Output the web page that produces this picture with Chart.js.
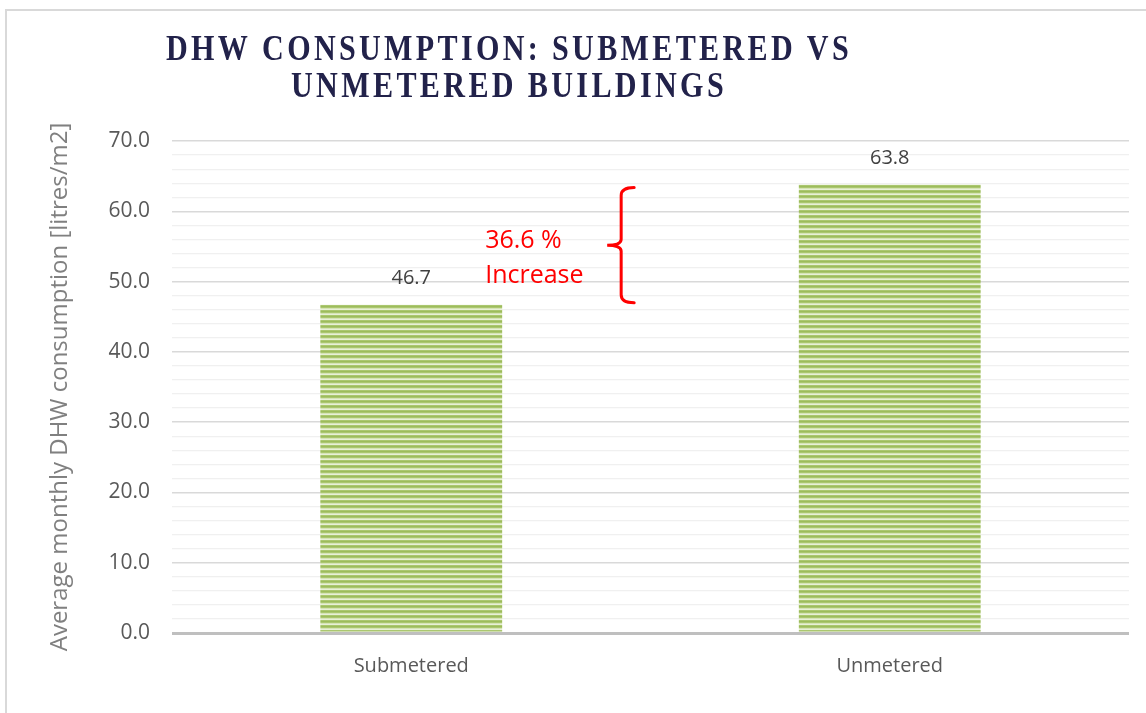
<!DOCTYPE html>
<html>
<head>
<meta charset="utf-8">
<script src="https://cdn.jsdelivr.net/npm/chart.js@4"></script>
<style>
  html, body { margin: 0; padding: 0; background: #fff; }
  #wrap { position: relative; width: 1146px; height: 713px; }
</style>
</head>
<body>
<div id="wrap"><canvas id="dhwChart"></canvas></div>
<script>
// chart data
const CATEGORIES = ['Submetered', 'Unmetered'];
const VALUES = [46.7, 63.8];
const Y_MIN = 0;
const Y_MAX = 70;
const Y_STEP = 2;          // minor grid step
const Y_LABEL_STEP = 10;   // labelled ticks
const TITLE_LINES = ['DHW CONSUMPTION: SUBMETERED VS', 'UNMETERED BUILDINGS'];
const Y_TITLE = 'Average monthly DHW consumption [litres/m2]';
const NOTE_LINES = ['36.6 %', 'Increase'];

const FONT = '"Open Sans", sans-serif';

// striped fill for the bars
function makeStripes(ctx) {
    const c = document.createElement('canvas');
    c.width = 4; c.height = 5;
    const g = c.getContext('2d');
    const rows = ['#abc76f', '#9dbc5c', '#abc76f', '#d6e4b6', '#e8f0d6'];
    rows.forEach((col, i) => { g.fillStyle = col; g.fillRect(0, i, 4, 1); });
    return ctx.createPattern(c, 'repeat');
}

// frame, title, value labels and the bracket note
const extrasPlugin = {
    id: 'extras',
    beforeDraw(chart) {
        const {ctx} = chart;
        ctx.save();
        ctx.strokeStyle = '#d9d9d9';
        ctx.lineWidth = 2;
        ctx.beginPath();
        ctx.moveTo(6, 713);
        ctx.lineTo(6, 10);
        ctx.lineTo(1146, 10);
        ctx.stroke();
        ctx.restore();
    },
    afterDatasetsDraw(chart) {
        const {ctx, scales} = chart;
        const y = scales.y;
        const bars = chart.getDatasetMeta(0).data;
        ctx.save();

        // title
        ctx.fillStyle = '#22224a';
        ctx.font = 'bold 36px "Liberation Serif", serif';
        ctx.textAlign = 'center';
        ctx.textBaseline = 'middle';
        ctx.letterSpacing = '4px';
        ctx.fillText(TITLE_LINES[0], 509, 51, 686);
        ctx.fillText(TITLE_LINES[1], 509, 88, 436);
        ctx.letterSpacing = '0px';

        // value labels
        ctx.fillStyle = '#404040';
        ctx.font = '20px ' + FONT;
        bars.forEach((bar, i) => {
            ctx.fillText(VALUES[i].toFixed(1), bar.x, bar.y - 26);
        });

        // bracket between the two bar tops
        const top = y.getPixelForValue(VALUES[1]) + 3;
        const bot = y.getPixelForValue(VALUES[0]) - 2;
        const mid = (top + bot) / 2;
        const bx = bars[0].x + bars[0].width / 2 + 119;
        ctx.strokeStyle = '#ff0000';
        ctx.lineWidth = 3;
        ctx.lineCap = 'round';
        ctx.beginPath();
        ctx.moveTo(bx + 13, top);
        ctx.quadraticCurveTo(bx, top, bx, top + 8);
        ctx.lineTo(bx, mid - 6);
        ctx.quadraticCurveTo(bx, mid, bx - 14, mid);
        ctx.quadraticCurveTo(bx, mid, bx, mid + 6);
        ctx.lineTo(bx, bot - 8);
        ctx.quadraticCurveTo(bx, bot, bx + 13, bot);
        ctx.stroke();

        // note text
        ctx.fillStyle = '#ff0000';
        ctx.font = '25px ' + FONT;
        ctx.textAlign = 'left';
        const tx = bars[0].x + bars[0].width / 2 - 17;
        ctx.fillText(NOTE_LINES[0], tx, mid - 4);
        ctx.fillText(NOTE_LINES[1], tx, mid + 31);
        ctx.restore();
    }
};

const canvas = document.getElementById('dhwChart');
const stripes = makeStripes(canvas.getContext('2d'));

new Chart(canvas, {
    type: 'bar',
    data: {
        labels: CATEGORIES,
        datasets: [{
            data: VALUES,
            backgroundColor: stripes,
            borderWidth: 0,
            categoryPercentage: 1,
            barPercentage: 0.38
        }]
    },
    options: {
        responsive: true,
        maintainAspectRatio: false,
        animation: false,
        layout: { padding: { top: 141, right: 17, bottom: 0, left: 0 } },
        plugins: {
            legend: { display: false },
            tooltip: { enabled: false }
        },
        scales: {
            x: {
                border: { display: false },
                grid: { display: false },
                ticks: {
                    color: '#595959',
                    font: { family: FONT, size: 20 },
                    padding: 13
                },
                afterFit: scale => { scale.height = 80; }
            },
            y: {
                min: Y_MIN,
                max: Y_MAX,
                border: { display: false },
                ticks: {
                    stepSize: Y_STEP,
                    autoSkip: false,
                    color: '#595959',
                    font: { family: FONT, size: 21 },
                    padding: 22,
                    callback: v => (v % Y_LABEL_STEP === 0 ? v.toFixed(1) : '')
                },
                grid: {
                    drawTicks: false,
                    color: ctx => {
                        const v = ctx.tick.value;
                        if (v === 0) return '#bfbfbf';
                        return v % Y_LABEL_STEP === 0 ? '#d9d9d9' : '#f0f0f0';
                    },
                    lineWidth: ctx => {
                        const v = ctx.tick.value;
                        if (v === 0) return 3;
                        return v % Y_LABEL_STEP === 0 ? 1.5 : 1.2;
                    }
                },
                title: {
                    display: true,
                    text: Y_TITLE,
                    color: '#808080',
                    font: { family: FONT, size: 24 },
                    padding: { top: 46, bottom: 0 }
                },
                afterFit: scale => { scale.width = 172; }
            }
        }
    },
    plugins: [extrasPlugin]
});
</script>
</body>
</html>
